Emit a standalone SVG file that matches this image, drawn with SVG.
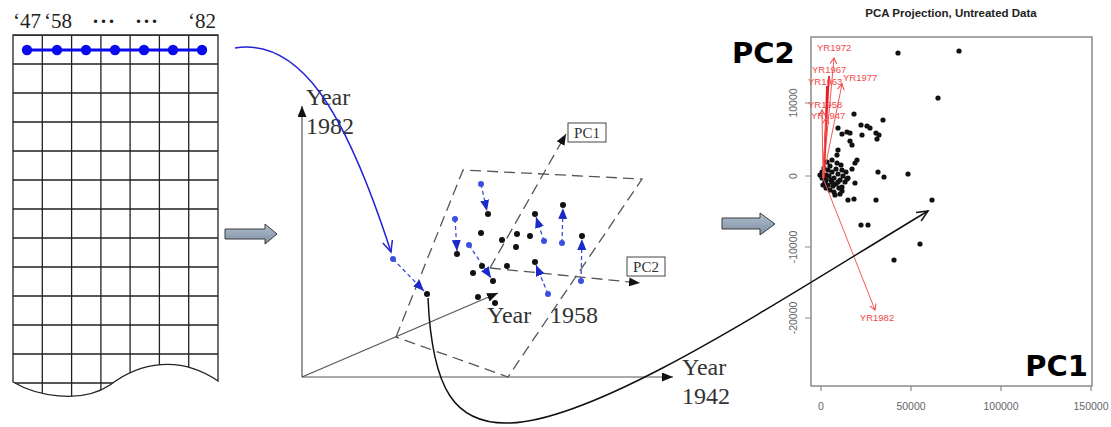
<svg xmlns="http://www.w3.org/2000/svg" width="1111" height="427" viewBox="0 0 1111 427">
<style>
.grid{stroke:#222;stroke-width:1.3;fill:none}
.hdr{font-family:"Liberation Serif",serif;font-size:21px;fill:#222}
.ser{font-family:"Liberation Serif",serif;font-size:24px;fill:#333}
.box{font-family:"Liberation Serif",serif;font-size:15px;fill:#333}
.ax{stroke:#555;stroke-width:1.2;fill:none}
.dash{stroke:#555;stroke-width:1.3;fill:none;stroke-dasharray:11 6}
.bd{stroke:#3b4fd0;stroke-width:1.3;fill:none;stroke-dasharray:4 3}
.bk{fill:#111}
.bl{fill:#3b4fe0}
.red{stroke:#f25a5a;stroke-width:1;fill:none}
.redt{stroke:#e81c1c;stroke-width:1.8;fill:none}
.rl{font-family:"Liberation Sans",sans-serif;font-size:9.5px;fill:#f04848}
.tick{font-family:"Liberation Sans",sans-serif;font-size:10.5px;fill:#666}
.big{font-family:"DejaVu Sans",sans-serif;font-weight:bold;font-size:29px;fill:#000}
.garrow{fill:url(#gg);stroke:#3a3a3a;stroke-width:1}
</style>
<defs>
<linearGradient id="gg" x1="0" y1="0" x2="0" y2="1">
<stop offset="0" stop-color="#b2c0cf"/><stop offset="1" stop-color="#7d8ea2"/>
</linearGradient>
<marker id="af" markerUnits="userSpaceOnUse" markerWidth="11" markerHeight="9" refX="11" refY="4.5" orient="auto"><path d="M0,0 L11,4.5 L0,9 z" fill="#111"/></marker>
<marker id="ob" markerUnits="userSpaceOnUse" markerWidth="14" markerHeight="12" refX="12" refY="6" orient="auto"><path d="M1,1 L12,6 L1,11" fill="none" stroke="#2323d8" stroke-width="1.5"/></marker>
<marker id="ok" markerUnits="userSpaceOnUse" markerWidth="14" markerHeight="12" refX="12" refY="6" orient="auto"><path d="M1,1 L12,6 L1,11" fill="none" stroke="#111" stroke-width="1.5"/></marker>
<marker id="bf" markerUnits="userSpaceOnUse" markerWidth="11" markerHeight="9" refX="11" refY="4.5" orient="auto"><path d="M0,0 L11,4.5 L0,9 z" fill="#1a2ac8"/></marker>
<marker id="ro" markerUnits="userSpaceOnUse" markerWidth="8" markerHeight="8" refX="6" refY="3.5" orient="auto"><path d="M0,0 L6,3.5 L0,7" fill="none" stroke="#f04848" stroke-width="1"/></marker>
<clipPath id="tbl"><path d="M13,35 H218 V381 C180,355 140,362 110,385 C80,405 35,395 13,382 Z"/></clipPath>
</defs>

<g id="table">
<text class="hdr" x="13" y="28">‘47</text>
<text class="hdr" x="44" y="28">‘58</text>
<text class="hdr" x="92" y="28" font-weight="bold" letter-spacing="1">···</text>
<text class="hdr" x="135" y="28" font-weight="bold" letter-spacing="1">···</text>
<text class="hdr" x="188" y="28">‘82</text>
<g clip-path="url(#tbl)" class="grid">
<path d="M13,35H218M13,64H218M13,93H218M13,122H218M13,151H218M13,180H218M13,209H218M13,238H218M13,267H218M13,296H218M13,325H218M13,354H218M13,383H218"/>
<path d="M42.3,35V410M71.6,35V410M100.9,35V410M130.1,35V410M159.4,35V410M188.7,35V410"/>
</g>
<path class="grid" d="M13,35V382 C35,395 80,405 110,385 C140,362 180,355 218,381 V35 Z"/>
<path d="M27,50H202" stroke="#0a0aee" stroke-width="3"/>
<g fill="#0a0aee">
<circle cx="27" cy="50" r="5.2"/><circle cx="57" cy="50" r="5.2"/><circle cx="86" cy="50" r="5.2"/><circle cx="115" cy="50" r="5.2"/><circle cx="144" cy="50" r="5.2"/><circle cx="173" cy="50" r="5.2"/><circle cx="202" cy="50" r="5.2"/>
</g>
</g>

<g id="arrow1"><path class="garrow" d="M225,229 H265 V224 L277,234 L265,244 V239 H225 Z"/></g>
<g id="arrow2"><path class="garrow" d="M722,218 H760 V213 L775,224 L760,235 V229 H722 Z"/></g>

<g id="space">
<path class="ax" d="M302,377 V106" marker-end="url(#af)"/>
<path class="ax" d="M302,377 H673" marker-end="url(#af)"/>
<path class="ax" d="M302,377 L498,293" marker-end="url(#af)"/>
<text class="ser" x="306" y="105">Year</text>
<text class="ser" x="306" y="134">1982</text>
<text class="ser" x="487" y="323">Year</text>
<text class="ser" x="550" y="323">1958</text>
<text class="ser" x="682" y="375">Year</text>
<text class="ser" x="682" y="404">1942</text>
<path class="dash" d="M396,337 L463,170 L642,179 L508,377 Z"/>
<path class="dash" d="M490,268 L566,134" marker-end="url(#af)"/>
<path class="dash" d="M490,268 L640,283" marker-end="url(#af)"/>
<rect x="568" y="123" width="38" height="19" fill="#fff" stroke="#444" stroke-width="1"/>
<text class="box" x="587" y="138" text-anchor="middle">PC1</text>
<rect x="627" y="257" width="38" height="19" fill="#fff" stroke="#444" stroke-width="1"/>
<text class="box" x="646" y="272" text-anchor="middle">PC2</text>
</g>

<g id="projections">
<path class="bd" d="M481,184 L487,211" marker-end="url(#bf)"/>
<path class="bd" d="M455,219 L457,251" marker-end="url(#bf)"/>
<path class="bd" d="M469,245 L491,278" marker-end="url(#bf)"/>
<path class="bd" d="M544,241 L536,217" marker-end="url(#bf)"/>
<path class="bd" d="M562,243 L563,208" marker-end="url(#bf)"/>
<path class="bd" d="M581,281 L582,239" marker-end="url(#bf)"/>
<path class="bd" d="M548,294 L536,265" marker-end="url(#bf)"/>
<path class="bd" d="M393,259 L424,291" marker-end="url(#bf)"/>
<g class="bl">
<circle cx="481" cy="184" r="3"/><circle cx="455" cy="219" r="3"/><circle cx="469" cy="245" r="3"/><circle cx="544" cy="241" r="3"/><circle cx="562" cy="243" r="3"/><circle cx="581" cy="281" r="3"/><circle cx="548" cy="294" r="3"/><circle cx="393" cy="259" r="3"/>
</g>
<g class="bk">
<circle cx="488" cy="214" r="3"/><circle cx="457" cy="254" r="3"/><circle cx="493" cy="281" r="3"/><circle cx="535" cy="214" r="3"/><circle cx="563" cy="205" r="3"/><circle cx="582" cy="236" r="3"/><circle cx="535" cy="262" r="3"/><circle cx="427" cy="294" r="3"/>
<circle cx="481" cy="233" r="3"/><circle cx="502" cy="240" r="3"/><circle cx="517" cy="234" r="3"/><circle cx="530" cy="236" r="3"/><circle cx="516" cy="247" r="3"/><circle cx="482" cy="266" r="3"/><circle cx="473" cy="273" r="3"/><circle cx="507" cy="266" r="3"/><circle cx="478" cy="297" r="3"/><circle cx="495" cy="303" r="3"/>
</g>
</g>

<g id="pcaplot">
<text x="951" y="17" text-anchor="middle" font-family="Liberation Sans,sans-serif" font-weight="bold" font-size="11.5" fill="#222">PCA Projection, Untreated Data</text>
<rect x="811" y="37" width="281" height="349" fill="none" stroke="#8a8a8a" stroke-width="1.5"/>
<path d="M821,386V391M911,386V391M1001,386V391M1091,386V391M811,103H805M811,176H805M811,247H805M811,318H805" stroke="#8a8a8a" stroke-width="1.2"/>
<text class="tick" x="821" y="410" text-anchor="middle">0</text>
<text class="tick" x="911" y="410" text-anchor="middle">50000</text>
<text class="tick" x="1001" y="410" text-anchor="middle">100000</text>
<text class="tick" x="1091" y="410" text-anchor="middle">150000</text>
<text class="tick" x="797" y="103" text-anchor="middle" transform="rotate(-90 797 103)">10000</text>
<text class="tick" x="797" y="176" text-anchor="middle" transform="rotate(-90 797 176)">0</text>
<text class="tick" x="797" y="247" text-anchor="middle" transform="rotate(-90 797 247)">-10000</text>
<text class="tick" x="797" y="318" text-anchor="middle" transform="rotate(-90 797 318)">-20000</text>
<g class="bk">
<circle cx="898" cy="53" r="2.6"/><circle cx="959" cy="51" r="2.6"/><circle cx="938" cy="98" r="2.6"/><circle cx="854" cy="114" r="2.6"/><circle cx="883" cy="120" r="2.6"/><circle cx="861" cy="125" r="2.6"/><circle cx="867" cy="126" r="2.6"/>
<circle cx="838" cy="128" r="2.6"/><circle cx="842" cy="134" r="2.6"/><circle cx="847" cy="132" r="2.6"/><circle cx="850" cy="133" r="2.6"/><circle cx="870" cy="128" r="2.6"/><circle cx="862" cy="135" r="2.6"/><circle cx="876" cy="133" r="2.6"/><circle cx="879" cy="135" r="2.6"/><circle cx="877" cy="139" r="2.6"/><circle cx="850" cy="141" r="2.6"/><circle cx="852" cy="145" r="2.6"/><circle cx="838" cy="150" r="2.6"/><circle cx="837" cy="155" r="2.6"/><circle cx="857" cy="160" r="2.6"/><circle cx="855" cy="163" r="2.6"/><circle cx="878" cy="172" r="2.6"/><circle cx="884" cy="177" r="2.6"/><circle cx="908" cy="174" r="2.6"/><circle cx="852" cy="169" r="2.6"/><circle cx="847" cy="179" r="2.6"/><circle cx="855" cy="183" r="2.6"/><circle cx="842" cy="187" r="2.6"/><circle cx="842" cy="191" r="2.6"/><circle cx="848" cy="200" r="2.6"/><circle cx="854" cy="199" r="2.6"/><circle cx="876" cy="200" r="2.6"/><circle cx="932" cy="200" r="2.6"/><circle cx="861" cy="225" r="2.6"/><circle cx="868" cy="225" r="2.6"/><circle cx="920" cy="244" r="2.6"/><circle cx="894" cy="260" r="2.6"/>
<circle cx="822" cy="172" r="2.6"/><circle cx="824" cy="168" r="2.6"/><circle cx="826" cy="175" r="2.6"/><circle cx="828" cy="170" r="2.6"/><circle cx="830" cy="166" r="2.6"/><circle cx="832" cy="172" r="2.6"/><circle cx="834" cy="178" r="2.6"/><circle cx="836" cy="169" r="2.6"/><circle cx="838" cy="174" r="2.6"/><circle cx="840" cy="180" r="2.6"/><circle cx="842" cy="170" r="2.6"/><circle cx="825" cy="182" r="2.6"/><circle cx="828" cy="185" r="2.6"/><circle cx="831" cy="180" r="2.6"/><circle cx="833" cy="186" r="2.6"/><circle cx="836" cy="184" r="2.6"/><circle cx="839" cy="188" r="2.6"/><circle cx="822" cy="178" r="2.6"/><circle cx="826" cy="188" r="2.6"/><circle cx="830" cy="190" r="2.6"/><circle cx="834" cy="192" r="2.6"/><circle cx="829" cy="176" r="2.6"/><circle cx="837" cy="163" r="2.6"/><circle cx="841" cy="165" r="2.6"/><circle cx="843" cy="176" r="2.6"/><circle cx="845" cy="182" r="2.6"/><circle cx="820" cy="175" r="2.6"/><circle cx="823" cy="185" r="2.6"/><circle cx="827" cy="162" r="2.6"/><circle cx="832" cy="160" r="2.6"/><circle cx="846" cy="172" r="2.6"/><circle cx="848" cy="178" r="2.6"/><circle cx="835" cy="195" r="2.6"/><circle cx="840" cy="194" r="2.6"/><circle cx="826" cy="180" r="2.6"/><circle cx="832" cy="182" r="2.6"/><circle cx="838" cy="182" r="2.6"/><circle cx="824" cy="176" r="2.6"/>
</g>
<path class="red" d="M823,178 L834,58" marker-end="url(#ro)"/>
<path class="redt" d="M823,178 L829,76"/>
<path class="redt" d="M824,178 L827,86"/>
<path class="red" d="M823,178 L842,84" marker-end="url(#ro)"/>
<path class="red" d="M823,178 L822,110" marker-end="url(#ro)"/>
<path class="red" d="M823,178 L826,118" marker-end="url(#ro)"/>
<path class="red" d="M823,178 L875,310" marker-end="url(#ro)"/>
<text class="rl" x="817" y="51">YR1972</text>
<text class="rl" x="812" y="73">YR1967</text>
<text class="rl" x="808" y="85">YR1963</text>
<text class="rl" x="843" y="81">YR1977</text>
<text class="rl" x="808" y="108">YR1958</text>
<text class="rl" x="811" y="119">YR1947</text>
<text class="rl" x="877" y="321" text-anchor="middle">YR1982</text>
<text class="big" x="732" y="63">PC2</text>
<text class="big" x="1088" y="376" text-anchor="end">PC1</text>
</g>

<g id="connectors">
<path d="M235,48 C300,38 345,110 391,252" fill="none" stroke="#2323d8" stroke-width="1.5" marker-end="url(#ob)"/>
<path d="M428,298 C432,390 455,425 510,423 C600,420 780,300 928,211" fill="none" stroke="#111" stroke-width="1.5" marker-end="url(#ok)"/>
</g>
</svg>
